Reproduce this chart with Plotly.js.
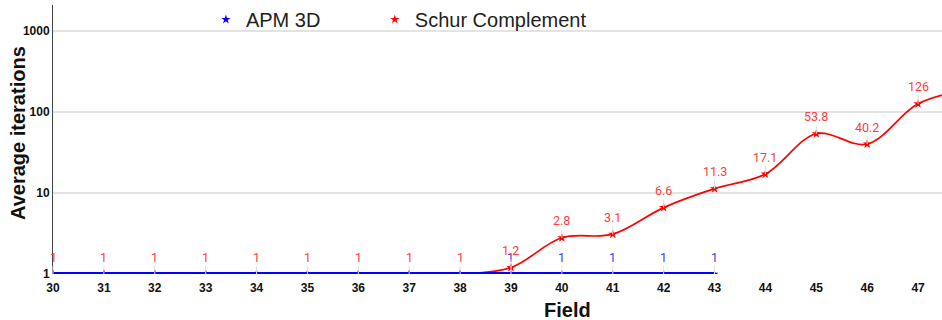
<!DOCTYPE html>
<html><head><meta charset="utf-8">
<script src="https://cdn.plot.ly/plotly-3.0.1.min.js"></script>
<style>html,body{margin:0;padding:0;background:#fff}#chart{width:942px;height:320px}</style>
</head><body><div id="chart"></div>
<script>
const apmFields = [30,31,32,33,34,35,36,37,38,39,40,41,42,43];
const apmValues = [1,1,1,1,1,1,1,1,1,1,1,1,1,1];
const schurFields = [30,31,32,33,34,35,36,37,38,39,40,41,42,43,44,45,46,47,48];
const schurValues = [1,1,1,1,1,1,1,1,1,1.2,2.8,3.1,6.6,11.3,17.1,53.8,40.2,126,190];
const xTicks = [30,31,32,33,34,35,36,37,38,39,40,41,42,43,44,45,46,47];
const yTicks = [1,10,100,1000];
const xMax = 47.47;

function valueAt(xs, ys, x){ const i = xs.indexOf(x); return i < 0 ? null : ys[i]; }
function makeAnn(xs, ys, color, coverXs, coverYs){
  const out = [];
  for (let i=0;i<xs.length;i++){
    if (xs[i] > xMax) continue;
    // a label hidden exactly beneath an identical label of the other series is not drawn twice
    if (coverXs && valueAt(coverXs, coverYs, xs[i]) === ys[i]) continue;
    out.push({x: xs[i], y: Math.log10(ys[i]), xref:'x', yref:'y', text: String(ys[i]),
      showarrow: true, arrowhead: 0, arrowwidth: 1, arrowcolor: '#e2e2e2', ax: 0, ay: -17,
      font: {family: 'Roboto, sans-serif', size: 12.5, color: color}});
  }
  return out;
}

const LF = 'Liberation Sans, Arial, sans-serif';
const legendStyle = {orientation: 'h', xanchor: 'left', y: 1.02, yanchor: 'top',
  bgcolor: 'rgba(0,0,0,0)', font: {family: LF, size: 20, color: '#222'}};
const traces = [
  {x: schurFields, y: schurValues, name: 'Schur Complement', type: 'scatter', mode: 'lines+markers', showlegend: false,
   line: {color: '#ff0000', width: 1.7, shape: 'spline', smoothing: 1}, marker: {symbol: 'star', size: 7, color: '#ff0000'}},
  {x: apmFields, y: apmValues, name: 'APM 3D', type: 'scatter', mode: 'lines+markers', showlegend: false,
   line: {color: '#0000ff', width: 4}, marker: {symbol: 'star', size: 6, color: '#0000ff'}},
  {x: [null], y: [null], name: 'APM 3D', type: 'scatter', mode: 'markers', legend: 'legend',
   marker: {symbol: 'star', size: 7, color: '#0000ff'}},
  {x: [null], y: [null], name: 'Schur Complement', type: 'scatter', mode: 'markers', legend: 'legend2',
   marker: {symbol: 'star', size: 7, color: '#ff0000'}}
];

const layout = {
  width: 942, height: 320,
  margin: {l: 53, r: 0, t: 5, b: 46},
  paper_bgcolor: '#ffffff', plot_bgcolor: '#ffffff',
  showlegend: true,
  legend: Object.assign({x: 0.172}, legendStyle),
  legend2: Object.assign({x: 0.362}, legendStyle),
  xaxis: {range: [30, xMax], tickvals: xTicks, ticktext: xTicks.map(String), showgrid: false, zeroline: false,
    showline: false, ticks: '', ticklabelstandoff: 5,
    tickfont: {family: LF, size: 12, color: '#111', weight: 'bold'}},
  yaxis: {type: 'log', range: [0, 3.32], tickvals: yTicks, ticktext: yTicks.map(String), showgrid: true,
    gridcolor: '#e3e3e3', gridwidth: 1.5, zeroline: false, showline: true, linecolor: '#444', linewidth: 1, ticks: '',
    tickfont: {family: LF, size: 12, color: '#111', weight: 'bold'}},
  annotations: makeAnn(apmFields, apmValues, '#3a3aff', schurFields, schurValues)
    .concat(makeAnn(schurFields, schurValues, '#ff3b3b'))
    .concat([
      {text: '<b>Field</b>', xref: 'paper', yref: 'paper', x: 0.579, y: -0.135, xanchor: 'center', yanchor: 'middle',
       showarrow: false, font: {family: LF, size: 20, color: '#111'}},
      {text: '<b>Average iterations</b>', xref: 'paper', yref: 'paper', x: -0.0394, y: 0.524, xanchor: 'center', yanchor: 'middle',
       textangle: -90, showarrow: false, font: {family: LF, size: 20, color: '#111'}}
    ])
};

Plotly.newPlot('chart', traces, layout, {displayModeBar: false, staticPlot: true});
</script></body></html>
